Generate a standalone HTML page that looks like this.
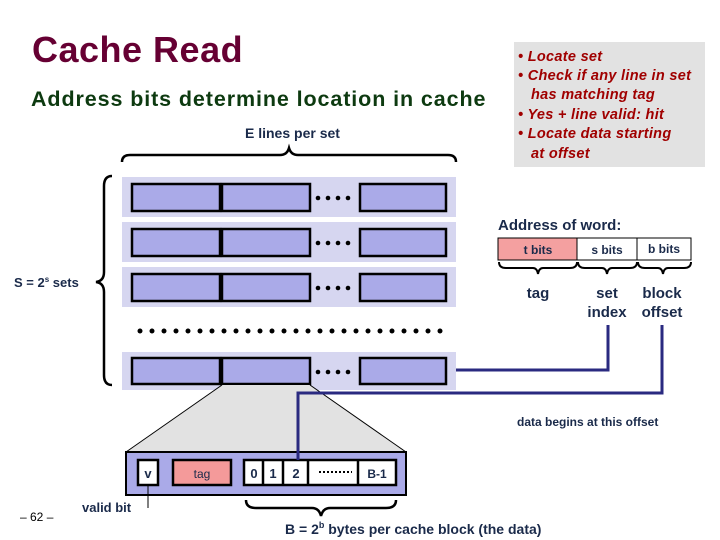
<!DOCTYPE html>
<html><head><meta charset="utf-8"><style>
html,body{margin:0;padding:0;background:#fff}
svg{display:block}
text{font-family:"Liberation Sans",sans-serif}
</style></head><body>
<svg width="720" height="540" viewBox="0 0 720 540" xmlns="http://www.w3.org/2000/svg">
<text x="32" y="62" font-size="36" font-weight="bold" fill="#660033" letter-spacing="0.5">Cache Read</text>
<text x="31" y="106" font-size="21.5" font-weight="bold" fill="#0d3a10" letter-spacing="0.9">Address bits determine location in cache</text>

<rect x="514" y="42" width="191" height="125" fill="#e2e2e2"/>
<g font-size="14.5" font-weight="bold" font-style="italic" fill="#a00000" letter-spacing="0.3">
<text x="518" y="61">• Locate set</text>
<text x="518" y="80">• Check if any line in set</text>
<text x="531" y="99">has matching tag</text>
<text x="518" y="119">• Yes + line valid: hit</text>
<text x="518" y="138">• Locate data starting</text>
<text x="531" y="158">at offset</text>
</g>

<text x="245" y="138" font-size="14" font-weight="bold" fill="#1a2a4a">E lines per set</text>
<path d="M122,162 Q122,155 130,155 L280,155 Q287,155 289,148 Q291,155 298,155 L448,155 Q456,155 456,162" fill="none" stroke="#000" stroke-width="2.5"/>
<path d="M112,176 Q104,176 104,186 L104,272 Q104,281 96,282 Q104,283 104,292 L104,375 Q104,385 112,385" fill="none" stroke="#000" stroke-width="2.5"/>
<text x="14" y="287" font-size="13" font-weight="bold" fill="#1a2a4a">S = 2<tspan font-size="8" dy="-5">s</tspan><tspan dy="5"> sets</tspan></text>

<g id="sets">
<g>
<rect x="122" y="177" width="334" height="40" fill="#d6d6f0"/>
<rect x="132" y="184" width="88" height="27" fill="#aaaae8" stroke="#000" stroke-width="2.5"/>
<rect x="222" y="184" width="88" height="27" fill="#aaaae8" stroke="#000" stroke-width="2.5"/>
<rect x="360" y="184" width="86" height="27" fill="#aaaae8" stroke="#000" stroke-width="2.5"/>
<g fill="#000"><circle cx="318" cy="198" r="2.3"/><circle cx="328" cy="198" r="2.3"/><circle cx="338" cy="198" r="2.3"/><circle cx="348" cy="198" r="2.3"/></g>
</g>
<g transform="translate(0,45)">
<rect x="122" y="177" width="334" height="40" fill="#d6d6f0"/>
<rect x="132" y="184" width="88" height="27" fill="#aaaae8" stroke="#000" stroke-width="2.5"/>
<rect x="222" y="184" width="88" height="27" fill="#aaaae8" stroke="#000" stroke-width="2.5"/>
<rect x="360" y="184" width="86" height="27" fill="#aaaae8" stroke="#000" stroke-width="2.5"/>
<g fill="#000"><circle cx="318" cy="198" r="2.3"/><circle cx="328" cy="198" r="2.3"/><circle cx="338" cy="198" r="2.3"/><circle cx="348" cy="198" r="2.3"/></g>
</g>
<g transform="translate(0,90)">
<rect x="122" y="177" width="334" height="40" fill="#d6d6f0"/>
<rect x="132" y="184" width="88" height="27" fill="#aaaae8" stroke="#000" stroke-width="2.5"/>
<rect x="222" y="184" width="88" height="27" fill="#aaaae8" stroke="#000" stroke-width="2.5"/>
<rect x="360" y="184" width="86" height="27" fill="#aaaae8" stroke="#000" stroke-width="2.5"/>
<g fill="#000"><circle cx="318" cy="198" r="2.3"/><circle cx="328" cy="198" r="2.3"/><circle cx="338" cy="198" r="2.3"/><circle cx="348" cy="198" r="2.3"/></g>
</g>
<g fill="#000">
<circle cx="140" cy="331" r="2.5"/><circle cx="152" cy="331" r="2.5"/><circle cx="164" cy="331" r="2.5"/><circle cx="176" cy="331" r="2.5"/><circle cx="188" cy="331" r="2.5"/><circle cx="200" cy="331" r="2.5"/><circle cx="212" cy="331" r="2.5"/><circle cx="224" cy="331" r="2.5"/><circle cx="236" cy="331" r="2.5"/><circle cx="248" cy="331" r="2.5"/><circle cx="260" cy="331" r="2.5"/><circle cx="272" cy="331" r="2.5"/><circle cx="284" cy="331" r="2.5"/><circle cx="296" cy="331" r="2.5"/><circle cx="308" cy="331" r="2.5"/><circle cx="320" cy="331" r="2.5"/><circle cx="332" cy="331" r="2.5"/><circle cx="344" cy="331" r="2.5"/><circle cx="356" cy="331" r="2.5"/><circle cx="368" cy="331" r="2.5"/><circle cx="380" cy="331" r="2.5"/><circle cx="392" cy="331" r="2.5"/><circle cx="404" cy="331" r="2.5"/><circle cx="416" cy="331" r="2.5"/><circle cx="428" cy="331" r="2.5"/><circle cx="440" cy="331" r="2.5"/>
</g>
<g transform="translate(0,175)">
<rect x="122" y="177" width="334" height="38" fill="#d6d6f0"/>
<rect x="132" y="183" width="88" height="26" fill="#aaaae8" stroke="#000" stroke-width="2.5"/>
<rect x="222" y="183" width="88" height="26" fill="#aaaae8" stroke="#000" stroke-width="2.5"/>
<rect x="360" y="183" width="86" height="26" fill="#aaaae8" stroke="#000" stroke-width="2.5"/>
<g fill="#000"><circle cx="318" cy="197" r="2.3"/><circle cx="328" cy="197" r="2.3"/><circle cx="338" cy="197" r="2.3"/><circle cx="348" cy="197" r="2.3"/></g>
</g>
</g>

<polygon points="222,385 310,385 406,452 126,452" fill="#e2e2e2"/>
<line x1="222" y1="385" x2="126" y2="452" stroke="#000" stroke-width="1"/>
<line x1="310" y1="385" x2="406" y2="452" stroke="#000" stroke-width="1"/>

<rect x="126" y="452" width="280" height="43" fill="#aaaae8" stroke="#000" stroke-width="2"/>
<rect x="138" y="460" width="20" height="25" fill="#fff" stroke="#000" stroke-width="2.5"/>
<rect x="173" y="460" width="58" height="25" fill="#f49a9a" stroke="#000" stroke-width="2.5"/>
<rect x="244" y="460" width="152" height="25" fill="#fff" stroke="#000" stroke-width="2.5"/>
<g stroke="#000" stroke-width="2.5"><line x1="263" y1="460" x2="263" y2="485"/><line x1="283" y1="460" x2="283" y2="485"/><line x1="308" y1="460" x2="308" y2="485"/><line x1="358" y1="460" x2="358" y2="485"/></g>
<g font-size="13" font-weight="bold" fill="#1a2a4a" text-anchor="middle">
<text x="148" y="478">v</text>
<text x="202" y="478" font-weight="normal" font-size="12">tag</text>
<text x="254" y="478">0</text>
<text x="273" y="478">1</text>
<text x="296" y="478">2</text>
<text x="377" y="478" font-size="12">B-1</text>
</g>
<line x1="319" y1="472" x2="352" y2="472" stroke="#000" stroke-width="2" stroke-dasharray="2,2"/>

<line x1="148" y1="485" x2="148" y2="508" stroke="#000" stroke-width="1"/>
<text x="82" y="512" font-size="13" font-weight="bold" fill="#1a2a4a">valid bit</text>
<text x="20" y="521" font-size="12" fill="#000">– 62 –</text>

<path d="M246,500 Q246,508 256,508 L312,508 Q319,508 321,516 Q323,508 330,508 L386,508 Q396,508 396,500" fill="none" stroke="#000" stroke-width="2.5"/>
<text x="285" y="534" font-size="14" font-weight="bold" fill="#1a2a4a">B = 2<tspan font-size="9" dy="-6">b</tspan><tspan dy="6"> bytes per cache block (the data)</tspan></text>

<text x="498" y="230" font-size="15" font-weight="bold" fill="#1a2a4a">Address of word:</text>
<rect x="498" y="238" width="79" height="22" fill="#f4a0a0" stroke="#000" stroke-width="1"/>
<rect x="577" y="238" width="60" height="22" fill="#fff" stroke="#000" stroke-width="1"/>
<rect x="637" y="238" width="54" height="22" fill="#fff" stroke="#000" stroke-width="1"/>
<g font-size="12" font-weight="bold" fill="#1a2a4a" text-anchor="middle">
<text x="538" y="254">t bits</text>
<text x="607" y="254">s bits</text>
<text x="664" y="253">b bits</text>
</g>
<g fill="none" stroke="#000" stroke-width="2">
<path d="M499,262 Q499,268 506,268 L533,268 Q537,268 538,274 Q539,268 543,268 L570,268 Q577,268 577,262"/>
<path d="M578,262 Q578,268 585,268 L602,268 Q606,268 607,274 Q608,268 612,268 L630,268 Q637,268 637,262"/>
<path d="M638,262 Q638,268 645,268 L658,268 Q662,268 663,274 Q664,268 668,268 L684,268 Q691,268 691,262"/>
</g>
<g font-size="15" font-weight="bold" fill="#1a2a4a" text-anchor="middle">
<text x="538" y="298">tag</text>
<text x="607" y="298">set</text>
<text x="607" y="317">index</text>
<text x="662" y="298">block</text>
<text x="662" y="317">offset</text>
</g>

<g fill="none" stroke="#2a2a80" stroke-width="3">
<polyline points="608,325 608,370 456,370"/>
<polyline points="662,325 662,393 298,393 298,460"/>
</g>
<text x="517" y="426" font-size="12" font-weight="bold" fill="#1a2a4a">data begins at this offset</text>
</svg>
</body></html>
